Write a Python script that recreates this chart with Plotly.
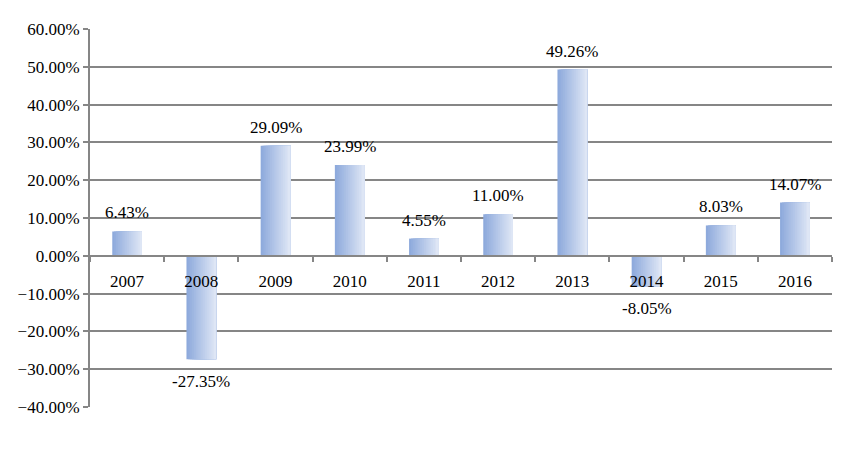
import plotly.graph_objects as go

# Jahresrenditen in Prozent
years = ["2007", "2008", "2009", "2010", "2011", "2012", "2013", "2014", "2015", "2016"]
returns = [6.43, -27.35, 29.09, 23.99, 4.55, 11.00, 49.26, -8.05, 8.03, 14.07]
labels = [f"{v:.2f}%" for v in returns]

# Verlauf von links (dunkler) nach rechts (heller)
left_rgb = (142, 170, 220)
right_rgb = (222, 230, 245)
n_slices = 16
bar_w = 0.40
step = bar_w / n_slices

fig = go.Figure()

# jede Scheibe reicht bis zum rechten Rand, die nächste liegt darüber -> keine Lücken
for i in range(n_slices):
    t = i / (n_slices - 1)
    c = tuple(round(a + (b - a) * t) for a, b in zip(left_rgb, right_rgb))
    fig.add_trace(go.Bar(
        x=years, y=returns,
        width=bar_w - i * step,
        offset=-bar_w / 2 + i * step,
        marker=dict(color=f"rgb{c}", line=dict(width=0)),
        hoverinfo="skip", showlegend=False,
    ))

# Beschriftungen mit etwas Abstand zum Balkenende
# (x als Kategorie-Index, sonst wird "2007" als Position 2007 gelesen)
for idx, (val, lab) in enumerate(zip(returns, labels)):
    fig.add_annotation(
        x=idx, y=val, text=lab, showarrow=False,
        yanchor="bottom" if val >= 0 else "top",
        yshift=7 if val >= 0 else -11,
        font=dict(size=17, color="black"),
    )

grid = "#868686"
font = "Liberation Serif"

# Seite hat 8px Rand -> Ränder entsprechend kleiner
fig.update_layout(
    width=852, height=452,
    margin=dict(l=82, r=28, t=21, b=53),
    barmode="overlay",
    plot_bgcolor="white", paper_bgcolor="white",
    font=dict(family=font, size=17, color="black"),
)

fig.update_xaxes(
    type="category", anchor="free", position=0.4, automargin=False,
    range=[-0.5, len(years) - 0.5],
    showline=True, linecolor=grid, linewidth=2,
    ticks="outside", tickson="boundaries", ticklen=5, tickwidth=2, tickcolor=grid,
    ticklabelstandoff=10,
    showgrid=False, tickfont=dict(size=17, family=font),
)

fig.update_yaxes(
    range=[-40, 60], dtick=10, tickformat=".2f", ticksuffix="%", automargin=False,
    showline=True, linecolor=grid, linewidth=2,
    ticks="outside", ticklen=5, tickwidth=2, tickcolor=grid,
    showgrid=True, gridcolor=grid, gridwidth=2, zeroline=False,
    tickfont=dict(size=17, family=font),
)

fig.write_html("out.html")
